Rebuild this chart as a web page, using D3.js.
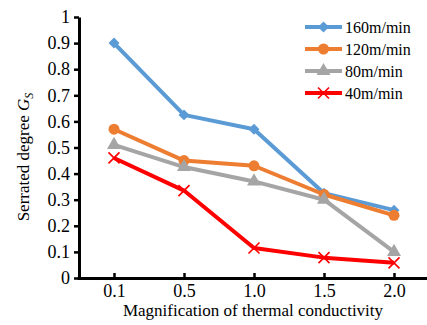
<!DOCTYPE html>
<html><head><meta charset="utf-8">
<script src="https://cdn.jsdelivr.net/npm/d3@7"></script>
<style>body{margin:0;background:#fff;} svg{display:block;} text{font-family:"Liberation Serif","Times New Roman",serif;fill:#000;}</style>
</head><body>
<svg id="c" width="427" height="325"></svg>
<script>
const categories = ["0.1","0.5","1.0","1.5","2.0"];
const seriesNames = ["160m/min","120m/min","80m/min","40m/min"];
const s160 = [0.90,0.625,0.57,0.325,0.26];
const s120 = [0.57,0.45,0.43,0.32,0.24];
const s80  = [0.51,0.425,0.37,0.30,0.10];
const s40  = [0.46,0.335,0.115,0.078,0.058];
const yTicks = [0,0.1,0.2,0.3,0.4,0.5,0.6,0.7,0.8,0.9,1];
const yTickLabels = ["0","0.1","0.2","0.3","0.4","0.5","0.6","0.7","0.8","0.9","1"];

const series = [
  {name: seriesNames[0], values: s160, color: "#5B9BD5", marker: "diamond"},
  {name: seriesNames[1], values: s120, color: "#ED7D31", marker: "circle"},
  {name: seriesNames[2], values: s80,  color: "#A5A5A5", marker: "triangle"},
  {name: seriesNames[3], values: s40,  color: "#FF0000", marker: "cross"}
];

const svg = d3.select("#c");
const x = d3.scalePoint().domain(categories).range([114, 394]);
const y = d3.scaleLinear().domain([0,1]).range([278, 17]);

// y axis
const yAxis = svg.append("g").attr("transform","translate(79,0)")
  .call(d3.axisLeft(y).tickValues(yTicks).tickFormat((d,i)=>yTickLabels[i]).tickSizeInner(5).tickSizeOuter(0).tickPadding(4));
yAxis.select(".domain").attr("stroke","#000").attr("stroke-width",3);
yAxis.selectAll(".tick line").attr("stroke","#000").attr("stroke-width",2.5);
yAxis.selectAll("text").attr("font-size",18);

// x axis
const xAxis = svg.append("g").attr("transform","translate(0,278)")
  .call(d3.axisBottom(x).tickSizeInner(-5).tickSizeOuter(0).tickPadding(6));
xAxis.select(".domain").attr("d","M77.5,0.5H427").attr("stroke","#000").attr("stroke-width",3);
xAxis.selectAll(".tick line").attr("stroke","#000").attr("stroke-width",2.5);
xAxis.selectAll("text").attr("font-size",18);

// axis titles
svg.append("text").attr("x",253).attr("y",316).attr("text-anchor","middle")
  .attr("font-size",17).text("Magnification of thermal conductivity");
const yt = svg.append("text").attr("transform","translate(29,157) rotate(-90)").attr("text-anchor","middle").attr("font-size",17);
yt.append("tspan").text("Serrated degree ");
yt.append("tspan").attr("font-style","italic").text("G");
yt.append("tspan").attr("font-style","italic").attr("font-size",12).attr("dy",4).text("S");

function drawMarker(g, type, cx, cy, color){
  if(type==="diamond"){
    g.append("path").attr("d",d3.symbol(d3.symbolSquare,60)())
      .attr("transform",`translate(${cx},${cy}) rotate(45)`).attr("fill",color);
  } else if(type==="circle"){
    g.append("circle").attr("cx",cx).attr("cy",cy).attr("r",5.5).attr("fill",color);
  } else if(type==="triangle"){
    g.append("path").attr("d",d3.symbol(d3.symbolTriangle,85)()).attr("transform",`translate(${cx},${cy})`).attr("fill",color);
  } else {
    const s=5.5;
    g.append("path").attr("d",`M${cx-s},${cy-s}L${cx+s},${cy+s}M${cx-s},${cy+s}L${cx+s},${cy-s}`)
      .attr("stroke",color).attr("stroke-width",1.6).attr("fill","none");
  }
}

const line = d3.line().x((d,i)=>x(categories[i])).y(d=>y(d));
series.forEach(s=>{
  const g = svg.append("g");
  g.append("path").datum(s.values).attr("d",line).attr("fill","none")
    .attr("stroke",s.color).attr("stroke-width",4).attr("stroke-linejoin","round");
  s.values.forEach((v,i)=>drawMarker(g, s.marker, x(categories[i]), y(v), s.color));
});

// legend
const lg = svg.append("g");
series.forEach((s,i)=>{
  const yy = 27 + i*22;
  lg.append("line").attr("x1",305).attr("x2",342).attr("y1",yy).attr("y2",yy)
    .attr("stroke",s.color).attr("stroke-width",4);
  drawMarker(lg, s.marker, 323.5, yy, s.color);
  lg.append("text").attr("x",345).attr("y",yy+5.5).attr("font-size",16).text(s.name);
});
</script>
</body></html>
